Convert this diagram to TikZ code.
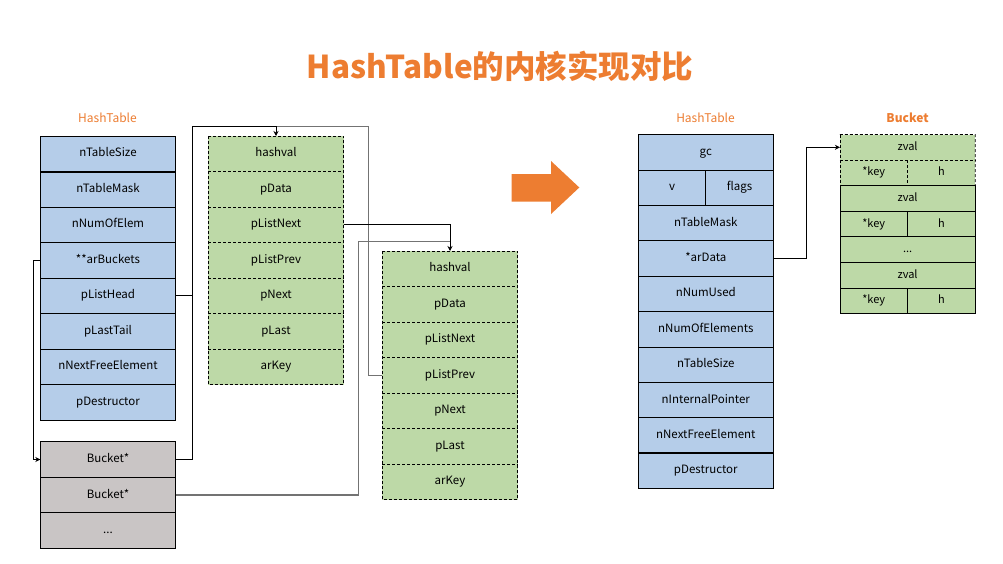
\documentclass[tikz,border=0pt]{standalone}
\usepackage{fontspec}
\setmainfont{Noto Sans CJK SC}
\usetikzlibrary{arrows.meta,calc}
\definecolor{hblue}{RGB}{181,205,233}
\definecolor{hgreen}{RGB}{189,217,167}
\definecolor{hgray}{RGB}{201,197,197}
\definecolor{horange}{RGB}{237,125,49}
\definecolor{lgray}{RGB}{115,115,115}
\begin{document}
\begin{tikzpicture}[x=1pt,y=-1pt,
  cell/.style={rectangle, minimum width=135.4pt, minimum height=35.5pt, inner sep=0pt, outer sep=0pt, text height=8.5pt, text depth=2.5pt, line width=0.8pt, font=\fontsize{11.5}{13}\selectfont},
  bcell/.style={cell, draw, fill=hblue},
  gcell/.style={cell, fill=hgreen},
  ycell/.style={cell, draw, fill=hgray},
  rcell/.style={cell, draw, fill=hblue, minimum width=135pt, minimum height=35.4pt},
  halfcell/.style={rcell, minimum width=67.5pt},
  kcell/.style={cell, fill=hgreen, minimum height=25.57pt, font=\fontsize{11}{12}\selectfont},
  khalf/.style={kcell, minimum width=67.7pt},
  dashln/.style={line width=0.8pt, dash pattern=on 3pt off 2pt},
  link/.style={line width=0.9pt, draw=black},
  glink/.style={line width=1.3pt, draw=lgray},
  tip/.style={-{Stealth[length=5pt,width=5pt]}},
  lbl/.style={text=horange, font=\fontsize{12}{14}\selectfont}]
\useasboundingbox (0,0) rectangle (1003,563);
\fill[white] (0,0) rectangle (1003,563);

% title
\node[text=horange, font=\bfseries\fontsize{31.5}{34}\selectfont] (title) at (500,66) {HashTable的内核实现对比};

% labels
\node[lbl] (lhL) at (107.5,118) {HashTable};
\node[lbl] (lhR) at (705.5,118) {HashTable};
\node[lbl, font=\bfseries\fontsize{12}{14}\selectfont] (lbk) at (907.5,118) {Bucket};

% left HashTable
\foreach \t [count=\i from 0] in {nTableSize,nTableMask,nNumOfElem,**arBuckets,pListHead,pLastTail,nNextFreeElement,pDestructor}
  \node[bcell] (L\i) at (108,{153.75+35.5*\i}) {\t};
\draw[line width=2pt] (L0.south west) -- (L0.south east);

% buckets (gray)
\node[ycell] (B0) at (108,459.5) {Bucket*};
\node[ycell] (B1) at (108,495) {Bucket*};
\node[ycell] (B2) at (108,530.5) {...};

% green 1
\foreach \t [count=\i from 0] in {hashval,pData,pListNext,pListPrev,pNext,pLast,arKey}
  \node[gcell] (G\i) at (276,{153.75+35.5*\i}) {\t};
\draw[dashln] (G0.north west) rectangle (G6.south east);
\foreach \i in {0,...,5} \draw[dashln] (G\i.south west) -- (G\i.south east);

% green 2
\foreach \t [count=\i from 0] in {hashval,pData,pListNext,pListPrev,pNext,pLast,arKey}
  \node[gcell] (H\i) at (450,{268.75+35.5*\i}) {\t};
\draw[dashln] (H0.north west) rectangle (H6.south east);
\foreach \i in {0,...,5} \draw[dashln] (H\i.south west) -- (H\i.south east);

% connectors left
\coordinate (j1) at (192.3,126.5);
\coordinate (j2) at (368.5,126.5);
\coordinate (j3) at (358.5,241.7);
\draw[glink] (H3.west) -| (j2) -- (j1 -| G0.north);
\draw[glink] (B1.east) -| (j3) -- (j3 -| H0.north);
\draw[link] (B0.east) -| (j1);
\draw[link,tip] (L4.east) -| (j1) -| (G0.north);
\draw[link,tip] (L3.west) -- ++(-7,0) |- (B0.west);
\draw[link,tip] (G2.east) -| (H0.north);

% orange arrow
\fill[horange] (511.7,174) -- (551,174) -- (551,161) -- (579.3,187.5) -- (551,214) -- (551,201.7) -- (511.7,201.7) -- cycle;

% right HashTable
\node[rcell] (R0) at (705.8,152.2) {gc};
\node[halfcell] (RV) at (672.05,187.6) {v};
\node[halfcell] (RF) at (739.55,187.6) {flags};
\foreach \t [count=\i from 2] in {nTableMask,*arData,nNumUsed,nNumOfElements,nTableSize,nInternalPointer,nNextFreeElement,pDestructor}
  \node[rcell] (R\i) at (705.8,{152.2+35.4*\i}) {\t};
\draw[line width=2pt] (R8.south west) -- (R8.south east);

% right Bucket
\node[kcell] (K0) at (907.6,147.3) {zval};
\node[khalf] (KK1) at (873.75,172.87) {*key};
\node[khalf] (KH1) at (941.45,172.87) {h};
\node[kcell, draw] (K2) at (907.6,198.44) {zval};
\node[khalf, draw] (KK3) at (873.75,224.01) {*key};
\node[khalf, draw] (KH3) at (941.45,224.01) {h};
\node[kcell, draw] (K4) at (907.6,249.58) {...};
\node[kcell, draw] (K5) at (907.6,275.15) {zval};
\node[khalf, draw] (KK6) at (873.75,300.72) {*key};
\node[khalf, draw] (KH6) at (941.45,300.72) {h};
\draw[dashln] (K0.north west) -- (K0.north east) -- (KH1.south east);
\draw[dashln] (K0.north west) -- (KK1.south west);
\draw[dashln] (K0.south west) -- (K0.south east);
\draw[dashln] (KK1.north east) -- (KK1.south east);

\draw[link,tip] (R3.east) -- ++(33,0) |- (K0.west);
\end{tikzpicture}
\end{document}
